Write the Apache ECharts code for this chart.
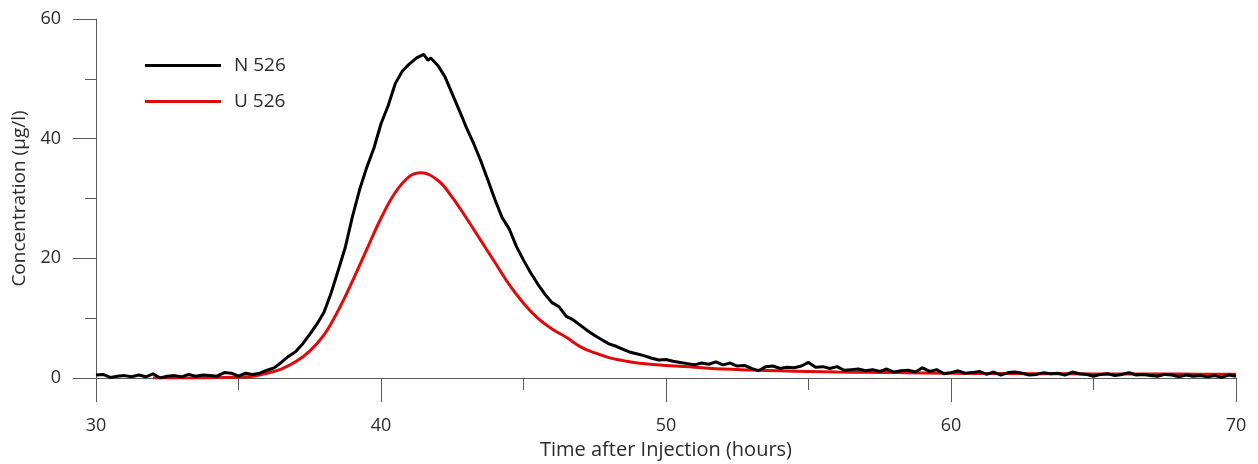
<!DOCTYPE html>
<html>
<head>
<meta charset="utf-8">
<script src="https://cdn.jsdelivr.net/npm/echarts@6/dist/echarts.min.js"></script>
<style>
  html, body { margin: 0; padding: 0; background: #fff; }
  #main { width: 1258px; height: 464px; }
</style>
</head>
<body>
<div id="main"></div>
<script>
// N 526 - measured (noisy) curve, time in hours
const timeN = [
  30.0, 30.25, 30.5, 30.75, 31.0, 31.25, 31.5, 31.75, 32.0, 32.25, 32.5, 32.75,
  33.0, 33.25, 33.5, 33.75, 34.0, 34.25, 34.5, 34.75, 35.0, 35.25, 35.5, 35.75,
  36.0, 36.25, 36.5, 36.75, 37.0, 37.25, 37.5, 37.75, 38.0, 38.25, 38.5, 38.75,
  39.0, 39.25, 39.5, 39.75, 40.0, 40.25, 40.5, 40.75, 41.0, 41.25, 41.5, 41.65,
  41.75, 42.0, 42.25, 42.5, 42.75, 43.0, 43.25, 43.5, 43.75, 44.0, 44.25, 44.5,
  44.75, 45.0, 45.25, 45.5, 45.75, 46.0, 46.25, 46.5, 46.75, 47.0, 47.25, 47.5,
  47.75, 48.0, 48.25, 48.5, 48.75, 49.0, 49.25, 49.5, 49.75, 50.0, 50.25, 50.5,
  50.75, 51.0, 51.25, 51.5, 51.75, 52.0, 52.25, 52.5, 52.75, 53.0, 53.25, 53.5,
  53.75, 54.0, 54.25, 54.5, 54.75, 55.0, 55.25, 55.5, 55.75, 56.0, 56.25, 56.5,
  56.75, 57.0, 57.25, 57.5, 57.75, 58.0, 58.25, 58.5, 58.75, 59.0, 59.25, 59.5,
  59.75, 60.0, 60.25, 60.5, 60.75, 61.0, 61.25, 61.5, 61.75, 62.0, 62.25, 62.5,
  62.75, 63.0, 63.25, 63.5, 63.75, 64.0, 64.25, 64.5, 64.75, 65.0, 65.25, 65.5,
  65.75, 66.0, 66.25, 66.5, 66.75, 67.0, 67.25, 67.5, 67.75, 68.0, 68.25, 68.5,
  68.75, 69.0, 69.25, 69.5, 69.75, 70.0
];
const concN = [
  0.5, 0.6, 0.1, 0.3, 0.4, 0.2, 0.5, 0.2, 0.7, 0.0, 0.3, 0.4,
  0.2, 0.6, 0.3, 0.5, 0.4, 0.3, 0.9, 0.8, 0.3, 0.8, 0.6, 0.8,
  1.3, 1.7, 2.6, 3.6, 4.4, 5.7, 7.3, 9.0, 11.0, 14.2, 18.0, 21.9,
  27.0, 31.5, 35.2, 38.4, 42.5, 45.5, 49.2, 51.3, 52.5, 53.5, 54.1, 53.1,
  53.5, 52.2, 50.3, 47.5, 44.7, 41.8, 39.2, 36.3, 33.1, 29.8, 26.8, 24.9,
  22.0, 19.7, 17.6, 15.7, 14.0, 12.6, 11.9, 10.3, 9.7, 8.8, 7.9, 7.1,
  6.4, 5.7, 5.3, 4.8, 4.3, 4.0, 3.7, 3.3, 3.0, 3.1, 2.8, 2.6,
  2.4, 2.2, 2.5, 2.3, 2.7, 2.2, 2.5, 2.0, 2.1, 1.6, 1.2, 1.9,
  2.0, 1.6, 1.8, 1.7, 2.0, 2.6, 1.8, 1.9, 1.6, 1.9, 1.3, 1.4,
  1.5, 1.2, 1.4, 1.1, 1.5, 1.0, 1.2, 1.3, 1.0, 1.7, 1.1, 1.4,
  0.7, 0.9, 1.2, 0.8, 0.9, 1.1, 0.6, 1.0, 0.5, 0.9, 1.0, 0.8,
  0.5, 0.6, 0.9, 0.7, 0.8, 0.5, 1.0, 0.7, 0.6, 0.3, 0.6, 0.7,
  0.4, 0.6, 0.9, 0.5, 0.6, 0.4, 0.3, 0.6, 0.5, 0.2, 0.5, 0.3,
  0.4, 0.2, 0.4, 0.1, 0.5, 0.3
];

// U 526 - smooth curve
const timeU = [
  32.0, 33.0, 34.0, 35.0, 35.5, 36.0, 36.5, 37.0, 37.5, 38.0, 38.5, 39.0,
  39.5, 40.0, 40.5, 41.0, 41.4, 42.0, 42.5, 43.0, 43.5, 44.0, 44.5, 45.0,
  45.5, 46.0, 46.5, 47.0, 47.5, 48.0, 48.5, 49.0, 50.0, 51.0, 52.0, 53.0,
  54.0, 55.0, 56.0, 57.0, 58.0, 60.0, 62.0, 64.0, 66.0, 68.0, 70.0
];
const concU = [
  0.0, 0.0, 0.05, 0.15, 0.3, 0.8, 1.5, 2.7, 4.5, 7.2, 11.3, 16.2,
  21.5, 26.7, 31.0, 33.7, 34.3, 33.0, 30.2, 26.7, 23.0, 19.3, 15.6, 12.5,
  10.0, 8.2, 6.8, 5.2, 4.2, 3.4, 2.9, 2.5, 2.1, 1.8, 1.5, 1.35,
  1.2, 1.1, 1.0, 0.95, 0.9, 0.8, 0.75, 0.7, 0.67, 0.65, 0.63
];

const seriesNames = ['N 526', 'U 526'];

const font = '"Open Sans", "Liberation Sans", Arial, sans-serif';
const axisGray = '#5a5a5a';
const textColor = '#2b2b2b';

let myChart = echarts.init(document.getElementById('main'));
myChart.setOption({
  animation: false,
  textStyle: { fontFamily: font },
  grid: { left: 96, right: 22, top: 19, bottom: 86, outerBoundsMode: 'none' },
  legend: {
    data: seriesNames,
    orient: 'vertical',
    left: 145,
    top: 56,
    padding: 0,
    icon: 'rect',
    itemWidth: 76,
    itemHeight: 3,
    itemGap: 17,
    textStyle: { fontSize: 19, color: textColor, fontFamily: font, padding: [0, 0, 0, 8] }
  },
  xAxis: {
    type: 'value',
    min: 30,
    max: 70,
    interval: 10,
    name: 'Time after Injection (hours)',
    nameLocation: 'middle',
    nameGap: 61,
    nameTextStyle: { fontSize: 20, color: textColor, fontFamily: font },
    axisLine: { lineStyle: { color: axisGray, width: 1 } },
    axisTick: { show: true, inside: false, length: 24, lineStyle: { color: axisGray } },
    minorTick: { show: true, splitNumber: 2, length: 12, lineStyle: { color: axisGray } },
    splitLine: { show: false },
    axisLabel: { fontSize: 18, color: textColor, margin: 39, fontFamily: font }
  },
  yAxis: {
    type: 'value',
    min: 0,
    max: 60,
    interval: 20,
    name: 'Concentration (µg/l)',
    nameLocation: 'middle',
    nameGap: 60,
    nameRotate: 90,
    nameTextStyle: { fontSize: 19, color: textColor, fontFamily: font },
    axisLine: { show: true, lineStyle: { color: axisGray, width: 1 } },
    axisTick: { show: true, inside: false, length: 23, lineStyle: { color: axisGray } },
    minorTick: { show: true, splitNumber: 2, length: 11, lineStyle: { color: axisGray } },
    splitLine: { show: false },
    axisLabel: { fontSize: 18, color: textColor, margin: 35, fontFamily: font }
  },
  series: [
    {
      name: 'N 526',
      type: 'line',
      data: timeN.map((t, i) => [t, concN[i]]),
      symbol: 'none',
      showSymbol: false,
      z: 3,
      color: '#000000',
      lineStyle: { color: '#000000', width: 3 }
    },
    {
      name: 'U 526',
      type: 'line',
      data: timeU.map((t, i) => [t, concU[i]]),
      symbol: 'none',
      showSymbol: false,
      smooth: 0.4,
      z: 2,
      color: '#e10a0a',
      lineStyle: { color: '#e10a0a', width: 3 }
    }
  ]
});

window.onresize = function () {
  myChart.resize();
};
</script>
</body>
</html>
